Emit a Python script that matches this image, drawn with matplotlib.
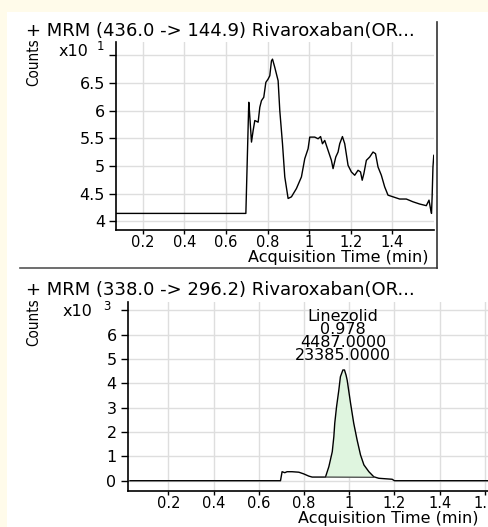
import numpy as np
import matplotlib
matplotlib.use("Agg")
import matplotlib.pyplot as plt
from matplotlib.lines import Line2D
from matplotlib.patches import Rectangle

# top trace: MRM 436.0 -> 144.9, counts x10
t_top = [0.075, 0.696, 0.710, 0.713, 0.723, 0.731, 0.739, 0.755, 0.763, 0.771,
         0.782, 0.792, 0.803, 0.811, 0.819, 0.824, 0.835, 0.851, 0.859, 0.872,
         0.883, 0.899, 0.915, 0.939, 0.963, 0.979, 0.995, 1.003, 1.027, 1.043,
         1.055, 1.064, 1.075, 1.091, 1.107, 1.115, 1.128, 1.139, 1.147, 1.160,
         1.171, 1.187, 1.203, 1.219, 1.235, 1.247, 1.255, 1.263, 1.275, 1.291,
         1.307, 1.319, 1.331, 1.347, 1.363, 1.379, 1.403, 1.435, 1.467, 1.499,
         1.531, 1.563, 1.576, 1.583, 1.588, 1.591, 1.595, 1.599]
c_top = [4.14, 4.14, 6.15, 6.00, 5.43, 5.64, 5.82, 5.79, 6.06, 6.18,
         6.24, 6.51, 6.57, 6.63, 6.90, 6.93, 6.78, 6.54, 6.00, 5.40,
         4.80, 4.41, 4.44, 4.59, 4.80, 5.13, 5.31, 5.52, 5.52, 5.49,
         5.53, 5.40, 5.46, 5.28, 5.10, 4.95, 5.16, 5.25, 5.40, 5.53,
         5.40, 5.01, 4.89, 4.83, 4.92, 4.89, 4.74, 4.86, 5.10, 5.16,
         5.25, 5.22, 4.98, 4.83, 4.62, 4.47, 4.44, 4.40, 4.40, 4.35,
         4.31, 4.28, 4.38, 4.23, 4.14, 4.44, 4.98, 5.19]

# bottom trace: MRM 338.0 -> 296.2, counts x10^3
t_bot = [0.030, 0.696, 0.703, 0.715, 0.725, 0.747, 0.777, 0.799, 0.821, 0.836,
         0.895, 0.910, 0.925, 0.932, 0.936, 0.944, 0.954, 0.961, 0.972, 0.979,
         0.986, 0.991, 1.006, 1.020, 1.035, 1.050, 1.065, 1.087, 1.109, 1.131,
         1.190, 1.200, 1.640]
c_bot = [0.00, 0.00, 0.37, 0.33, 0.37, 0.37, 0.35, 0.28, 0.19, 0.15,
         0.15, 0.58, 1.19, 1.81, 2.36, 3.04, 3.72, 4.27, 4.55, 4.55,
         4.34, 4.13, 3.18, 2.36, 1.67, 1.06, 0.65, 0.37, 0.16, 0.10,
         0.06, 0.00, 0.00]

peak_start, peak_end = 0.898, 1.112
base_start, base_end = 0.15, 0.14
peak_label = ["Linezolid", "0.978", "4487.0000", "23385.0000"]

top_title = "+ MRM (436.0 -> 144.9) Rivaroxaban(OR..."
bot_title = "+ MRM (338.0 -> 296.2) Rivaroxaban(OR..."

top_xticks = [0.2, 0.4, 0.6, 0.8, 1.0, 1.2, 1.4]
top_xlabels = ["0.2", "0.4", "0.6", "0.8", "1", "1.2", "1.4"]
top_yticks = [4, 4.5, 5, 5.5, 6, 6.5, 7]
top_ylabels = ["4", "4.5", "5", "5.5", "6", "6.5", ""]
bot_xticks = [0.2, 0.4, 0.6, 0.8, 1.0, 1.2, 1.4, 1.6]
bot_xlabels = ["0.2", "0.4", "0.6", "0.8", "1", "1.2", "1.4", "1.6"]
bot_yticks = [0, 1, 2, 3, 4, 5, 6, 7]
bot_ylabels = ["0", "1", "2", "3", "4", "5", "6", ""]

W, H = 488, 527
CREAM = "#fffbea"
FS = 11.5


def fx(x):
    return x / W


def fy(y):
    return 1 - y / H


def axes_px(left, top, right, bottom):
    return [fx(left), fy(bottom), (right - left) / W, (bottom - top) / H]


def style(ax, xt, xl, yt, yl):
    ax.set_facecolor("white")
    for s in ["top", "right"]:
        ax.spines[s].set_visible(False)
    for s in ["left", "bottom"]:
        ax.spines[s].set_linewidth(1.2)
    ax.set_xticks(xt)
    ax.set_xticklabels(xl)
    ax.set_yticks(yt)
    ax.set_yticklabels(yl)
    ax.tick_params(axis="x", length=3, width=1, pad=0.5, labelsize=10.5)
    ax.tick_params(axis="y", length=5, width=1, pad=3, labelsize=FS)
    ax.grid(True, color="#dedede", lw=1)
    ax.set_axisbelow(True)


fig = plt.figure(figsize=(W / 100, H / 100), dpi=100)
fig.patch.set_facecolor(CREAM)

# white panels behind the axes
fig.patches.append(Rectangle((fx(7), 0), (W - 7) / W, fy(12), transform=fig.transFigure,
                             facecolor="white", edgecolor="none", zorder=-10))
fig.lines.append(Line2D([fx(20), fx(437)], [fy(268), fy(268)], transform=fig.transFigure,
                        color="#555555", lw=1.2, zorder=-5))
fig.lines.append(Line2D([fx(437), fx(437)], [fy(268), fy(22)], transform=fig.transFigure,
                        color="#333333", lw=1.2, zorder=-5))

# top panel
ax1 = fig.add_axes(axes_px(116, 42, 434, 230))
ax1.plot(t_top, c_top, color="black", lw=1.0)
ax1.set_xlim(0.072, 1.6)
ax1.set_ylim(3.84, 7.24)
style(ax1, top_xticks, top_xlabels, top_yticks, top_ylabels)

# bottom panel
ax2 = fig.add_axes(axes_px(127.7, 302.3, 488, 490.7))
ax2.plot(t_bot, c_bot, color="black", lw=1.0, zorder=3)
tt = np.array([peak_start] + [t for t in t_bot if peak_start < t < peak_end] + [peak_end])
cc = np.interp(tt, t_bot, c_bot)
bb = np.interp(tt, [peak_start, peak_end], [base_start, base_end])
ax2.fill_between(tt, bb, cc, color="#dff5df", lw=0, zorder=2)
ax2.plot([peak_start, peak_end], [base_start, base_end], color="#444444", lw=0.9, zorder=3)
ax2.set_xlim(0.02, 1.614)
ax2.set_ylim(-0.41, 7.33)
style(ax2, bot_xticks, bot_xlabels, bot_yticks, bot_ylabels)

# peak annotation as one block of lines
ax2.text(0.972, (490.7 - 336) / (490.7 - 302.3), "\n".join(peak_label), fontsize=11.5,
         ha="center", va="center", multialignment="center", linespacing=0.82,
         transform=ax2.get_xaxis_transform(), zorder=4)

# titles, counts, exponent and axis labels
fig.text(fx(26), fy(31), top_title, fontsize=13, ha="left", va="center")
fig.text(fx(26), fy(290), bot_title, fontsize=13, ha="left", va="center")
for ycen in [62, 322]:
    fig.text(fx(34), fy(ycen), "Counts", rotation=90, fontsize=11, ha="center", va="center",
             fontstretch="condensed")
fig.text(fx(88), fy(52), "x10", fontsize=FS, ha="right", va="center")
fig.text(fx(104), fy(47), "1", fontsize=8.5, ha="right", va="center")
fig.text(fx(92), fy(311), "x10", fontsize=FS, ha="right", va="center")
fig.text(fx(111), fy(306), "3", fontsize=8.5, ha="right", va="center")
fig.text(fx(429), fy(258), "Acquisition Time (min)", fontsize=11.5, ha="right", va="center")
fig.text(fx(478), fy(519), "Acquisition Time (min)", fontsize=11.5, ha="right", va="center")

fig.savefig("out.png", dpi=100, facecolor=fig.get_facecolor())
